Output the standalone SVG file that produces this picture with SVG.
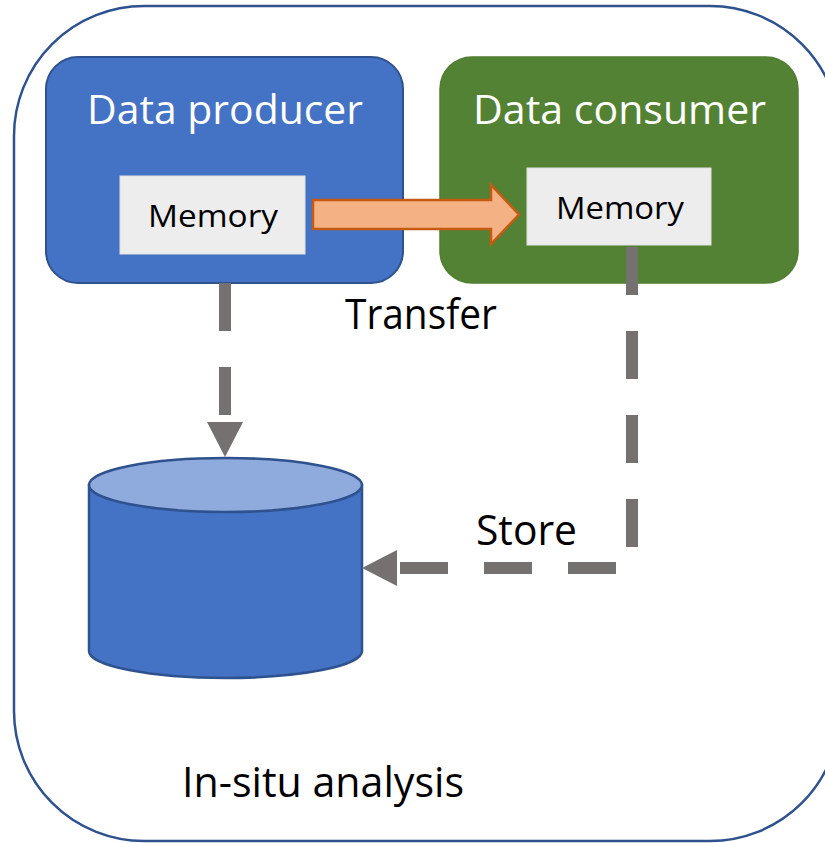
<svg xmlns="http://www.w3.org/2000/svg" width="825" height="843" viewBox="0 0 825 843">
<style>
text{font-family:"Open Sans","Noto Sans","Liberation Sans",sans-serif}
.title{fill:#FFFFFF;font-size:40px}
.mem{fill:#000000;font-size:31px}
.lbl{fill:#000000;font-size:42px}
.membox{fill:#EDEDED;stroke:#E0E0E0;stroke-width:1}
.dash{fill:none;stroke:#767171;stroke-width:12;stroke-dasharray:48 36}
.head{fill:#767171}
</style>
<rect id="outer" x="14" y="6" width="826" height="835" rx="130" ry="130" fill="#FFFFFF" stroke="#2F528F" stroke-width="2.5"/>
<g id="producer">
<rect x="46" y="57" width="357" height="226" rx="32" fill="#4472C4" stroke="#2F528F" stroke-width="2"/>
<text class="title" x="87" y="124" textLength="276" lengthAdjust="spacingAndGlyphs">Data producer</text>
</g>
<g id="producer-memory">
<rect class="membox" x="120" y="176" width="185" height="78"/>
<text class="mem" x="148" y="227" textLength="130" lengthAdjust="spacingAndGlyphs">Memory</text>
</g>
<g id="consumer">
<rect x="440" y="57" width="358" height="226" rx="32" fill="#548235" stroke="#507E32" stroke-width="1.5"/>
<text class="title" x="473" y="124" textLength="293" lengthAdjust="spacingAndGlyphs">Data consumer</text>
</g>
<g id="consumer-memory">
<rect class="membox" x="527" y="168" width="184" height="77"/>
<text class="mem" x="556" y="219" textLength="128" lengthAdjust="spacingAndGlyphs">Memory</text>
</g>
<g id="storage">
<path d="M89,485 V651 A136.5,27 0 0 0 362,651 V485 Z" fill="#4472C4" stroke="#2F528F" stroke-width="2.5"/>
<ellipse cx="225.5" cy="485" rx="136.5" ry="27" fill="#8FAADC" stroke="#2F528F" stroke-width="2.5"/>
</g>
<g id="connectors">
<path d="M313,200 H491 V185 L519,214.5 L491,244 V229 H313 Z" fill="#F4B183" stroke="#C55A11" stroke-width="2.5" stroke-linejoin="miter"/>
<path class="dash" d="M225,283 V415"/>
<polygon class="head" points="207,422 243,422 225,457"/>
<path class="dash" d="M632,247 V547"/>
<path class="dash" d="M616,568 H400"/>
<polygon class="head" points="397,550 397,586 362,568"/>
</g>
<g id="labels">
<text class="lbl" x="345" y="329" textLength="152" lengthAdjust="spacingAndGlyphs">Transfer</text>
<text class="lbl" x="476" y="545" textLength="101" lengthAdjust="spacingAndGlyphs">Store</text>
<text class="lbl" x="182" y="797" textLength="282" lengthAdjust="spacingAndGlyphs">In-situ analysis</text>
</g>
</svg>
